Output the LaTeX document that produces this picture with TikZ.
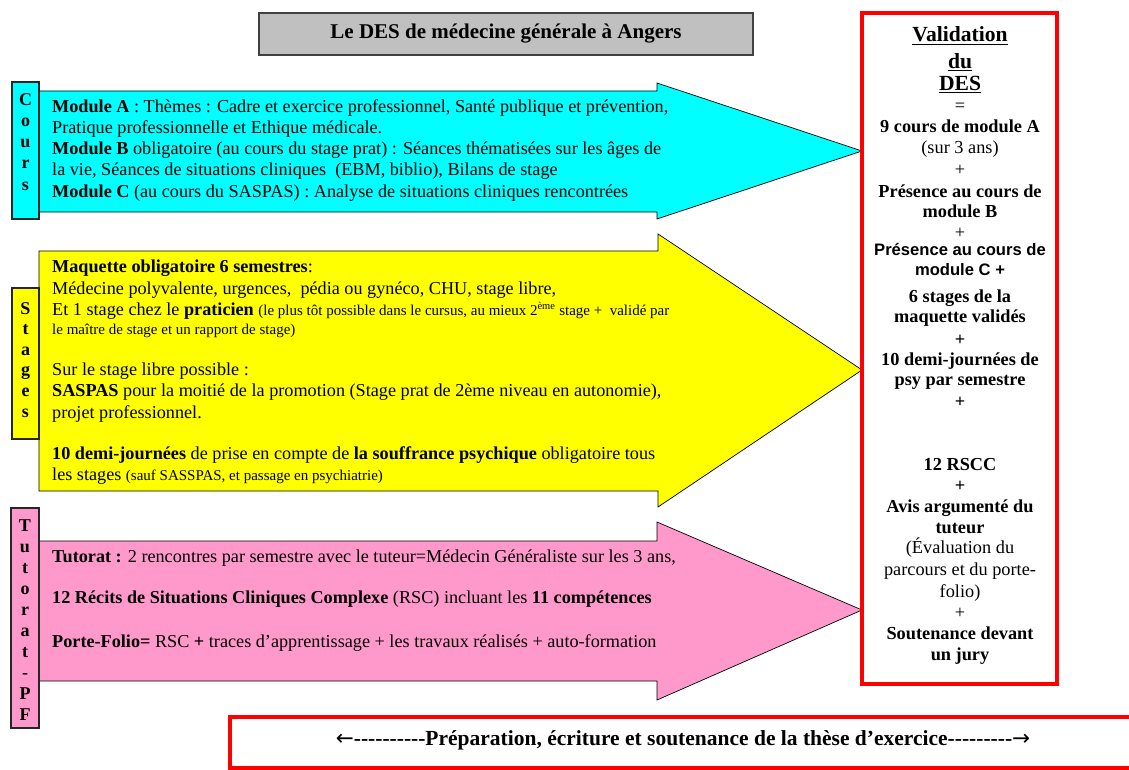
\documentclass[tikz,border=0pt]{standalone}
\usepackage{fontspec}
\setmainfont{Liberation Serif}
\newfontfamily\arialf{Liberation Sans}
\newfontfamily\dvf{DejaVu Sans}
\definecolor{cyanfill}{HTML}{00FFFF}
\definecolor{yellowfill}{HTML}{FFFF00}
\definecolor{pinkfill}{HTML}{FF99CC}
\definecolor{titlegray}{HTML}{C0C0C0}
\definecolor{redline}{HTML}{FF0000}
\newcommand\smalltxt{\fontsize{15}{17}\selectfont}
\newcommand\hy{-\kern0pt}
\newcommand\hyrow[1]{\foreach \k in {1,...,#1}{\hy}}
\begin{document}
\begin{tikzpicture}[x=1pt,y=-1pt,
  bodytxt/.style={anchor=base west, inner sep=0pt, font=\fontsize{18.2}{20}\selectfont},
  valtxt/.style={anchor=base, inner sep=0pt, font=\fontsize{18.3}{20}\selectfont\bfseries},
  valreg/.style={anchor=base, inner sep=0pt, font=\fontsize{18.3}{20}\selectfont},
  valhead/.style={anchor=base, inner sep=0pt, font=\fontsize{21.6}{24}\selectfont\bfseries},
  valsans/.style={anchor=base, inner sep=0pt, font=\fontsize{16.6}{20}\arialf\bfseries},
  lettertxt/.style={anchor=base, inner sep=0pt, font=\fontsize{18}{20}\selectfont\bfseries},
  labelbox/.style={draw=black!85, line width=1.4pt},
  arrowshape/.style={draw=black, line width=0.7pt},
]
\useasboundingbox (0,0) rectangle (1129,770);

% ---------- title ----------
\node[draw=black!75, line width=1.2pt, fill=titlegray, minimum width=494pt, minimum height=42pt,
      inner sep=0pt, font=\fontsize{21}{24}\selectfont\bfseries] (title) at (506,34)
      {Le DES de médecine générale à Angers};

% ---------- arrows ----------
\draw[arrowshape, fill=cyanfill] (39,91) coordinate (coursA) -- (657,91) -- (657,83) -- (862,151) coordinate (coursTip)
  -- (657,219) -- (657,212) -- (39,212) -- cycle;
\draw[arrowshape, fill=yellowfill] (39,251) coordinate (stagesA) -- (658,251) -- (658,234) -- (862,370) coordinate (stagesTip)
  -- (658,507) -- (658,491) -- (39,491) -- cycle;
\draw[arrowshape, fill=pinkfill] (39,541) coordinate (tutA) -- (657,541) -- (657,522) -- (862,610) coordinate (tutTip)
  -- (657,700) -- (657,681) -- (39,681) -- cycle;

% ---------- label boxes ----------
\draw[labelbox, fill=cyanfill] (12,82) rectangle (39,219);
\draw[labelbox, fill=yellowfill] (12,288) rectangle (39,439);
\draw[labelbox, fill=pinkfill] (11,508) rectangle (39,728);

\foreach \l [count=\i] in {C,o,u,r,s}
  \node[lettertxt] (cl\i) at (25.5,{106+21*(\i-1)}) {\l};
\foreach \l [count=\i] in {S,t,a,g,e,s}
  \node[lettertxt] (sl\i) at (25.5,{314+20.6*(\i-1)}) {\l};
\foreach \l [count=\i] in {T,u,t,o,r,a,t,-,P,F}
  \node[lettertxt] (tl\i) at (25,{531+21.1*(\i-1)}) {\l};

% ---------- cours text ----------
\node[bodytxt] (c1) at (52,113) {\textbf{Module A} : Thèmes : Cadre et exercice professionnel, Santé publique et prévention,};
\node[bodytxt] (c2) at (52,134) {Pratique professionnelle et Ethique médicale.};
\node[bodytxt] (c3) at (52,155) {\textbf{Module B} obligatoire (au cours du stage prat) : Séances thématisées sur les âges de};
\node[bodytxt] (c4) at (52,176) {la vie, Séances de situations cliniques\ \ (EBM, biblio), Bilans de stage};
\node[bodytxt] (c5) at (52,197) {\textbf{Module C} (au cours du SASPAS) : Analyse de situations cliniques rencontrées};

% ---------- stages text ----------
\node[bodytxt] (s1) at (52,272) {\textbf{Maquette obligatoire 6 semestres}:};
\node[bodytxt] (s2) at (52,294) {Médecine polyvalente, urgences,\ \ pédia ou gynéco, CHU, stage libre,};
\node[bodytxt] (s3) at (52,315) {Et 1 stage chez le \textbf{praticien} {\smalltxt(le plus tôt possible dans le cursus, au mieux 2\textsuperscript{ème} stage +\ \ validé par}};
\node[bodytxt] (s4) at (52,334) {\smalltxt le maître de stage et un rapport de stage)};
\node[bodytxt] (s5) at (52,375) {Sur le stage libre possible :};
\node[bodytxt] (s6) at (52,396) {\textbf{SASPAS} pour la moitié de la promotion (Stage prat de 2ème niveau en autonomie),};
\node[bodytxt] (s7) at (52,418) {projet professionnel.};
\node[bodytxt] (s8) at (52,459) {\textbf{10 demi-journées} de prise en compte de \textbf{la souffrance psychique} obligatoire tous};
\node[bodytxt] (s9) at (52,480) {les stages {\smalltxt(sauf SASSPAS, et passage en psychiatrie)}};

% ---------- tutorat text ----------
\node[bodytxt] (t1) at (52,562) {\textbf{Tutorat :} 2 rencontres par semestre avec le tuteur=Médecin Généraliste sur les 3 ans,};
\node[bodytxt] (t2) at (52,603) {\textbf{12 Récits de Situations Cliniques Complexe} (RSC) incluant les \textbf{11 compétences}};
\node[bodytxt] (t3) at (52,647) {\textbf{Porte-Folio=} RSC \textbf{+} traces d’apprentissage + les travaux réalisés + auto-formation};

% ---------- validation box ----------
\draw[redline, line width=3.5pt] (862,13) rectangle (1057,684);
\node[valhead] (v1) at (960,42) {\underline{Validation}};
\node[valhead] (v2) at (960,69) {\underline{du}};
\node[valhead] (v3) at (960,91) {\underline{DES}};
\node[valreg] (v4) at (960,112) {=};
\node[valtxt] (v5) at (960,133) {9 cours de module A};
\node[valreg] (v6) at (960,154) {(sur 3 ans)};
\node[valreg] (v7) at (960,176) {+};
\node[valtxt] (v8) at (960,197) {Présence au cours de};
\node[valtxt] (v9) at (960,218) {module B};
\node[valreg] (v10) at (960,238) {+};
\node[valsans] (v11) at (960,255) {Présence au cours de};
\node[valsans] (v12) at (960,275) {module C +};
\node[valtxt] (v13) at (960,302) {6 stages de la};
\node[valtxt] (v14) at (960,322) {maquette validés};
\node[valtxt] (v15) at (960,345) {+};
\node[valtxt] (v16) at (960,365) {10 demi-journées de};
\node[valtxt] (v17) at (960,385) {psy par semestre};
\node[valtxt] (v18) at (960,407) {+};
\node[valtxt] (v19) at (960,470) {12 RSCC};
\node[valtxt] (v20) at (960,491) {+};
\node[valtxt] (v21) at (960,512) {Avis argumenté du};
\node[valtxt] (v22) at (960,533) {tuteur};
\node[valreg] (v23) at (960,553) {(Évaluation du};
\node[valreg] (v24) at (960,575) {parcours et du porte-};
\node[valreg] (v25) at (960,597) {folio)};
\node[valreg] (v26) at (960,618) {+};
\node[valtxt] (v27) at (960,639) {Soutenance devant};
\node[valtxt] (v28) at (960,660) {un jury};

% ---------- bottom box ----------
\draw[redline, line width=4pt] (230,717) rectangle (1140,768);
\node[anchor=base, inner sep=0pt, font=\fontsize{21.5}{24}\selectfont\bfseries] (these) at (683,745)
  {{\dvf\mdseries ←}\hy\hy\hy\hy\hy\hy\hy\hy\hy\hy Préparation, écriture et soutenance de la thèse d’exercice\hy\hy\hy\hy\hy\hy\hy\hy\hy{\dvf\mdseries →}};
\end{tikzpicture}
\end{document}
